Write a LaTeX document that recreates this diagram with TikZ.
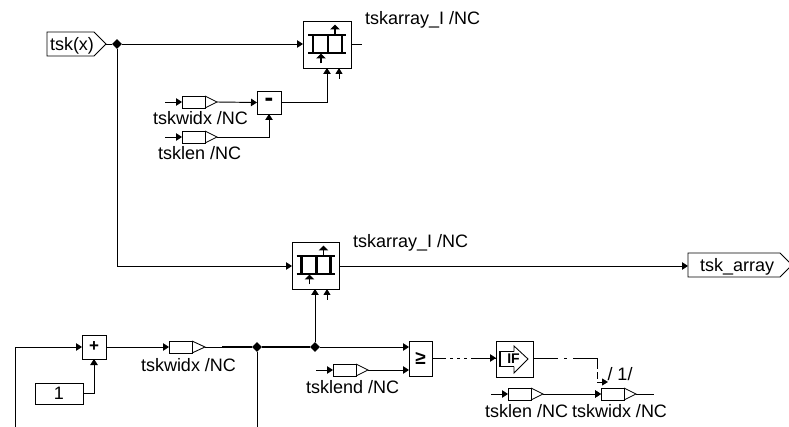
\documentclass[tikz,border=0pt]{standalone}
\usepackage{fontspec}
\setmainfont{Liberation Sans}
\usetikzlibrary{arrows.meta,calc,shapes.geometric}
\newcommand{\lblfont}{\fontsize{18}{20}\selectfont}
\tikzset{
  wire/.style={line width=0.95pt},
  arr/.style={wire,-{Triangle[length=6pt,width=7.5pt]}},
  smallarr/.style={wire,-{Triangle[length=6pt,width=7pt]}},
  thickwire/.style={line width=1.9pt},
  blockbox/.style={draw,line width=0.95pt,rectangle,inner sep=0pt,outer sep=0pt},
  tagbox/.style={draw,line width=0.85pt,rectangle,inner sep=0pt,outer sep=0pt,minimum width=23pt,minimum height=12pt},
  lbl/.style={inner sep=0pt,outer sep=0pt,anchor=base west,font=\lblfont},
  junction/.style={fill=black,draw=none,shape=diamond,minimum size=10pt,inner sep=0pt},
  iconbar/.style={line width=2.1pt},
  iconarr/.style={line width=1.9pt,-{Triangle[length=5pt,width=9.5pt]}}
}
% input tag: #1 name, #2 left x, #3 centre y
\newcommand{\inputtag}[3]{%
  \node[tagbox,anchor=west] (#1) at (#2,#3) {};
  \coordinate (#1-tip) at ($(#1.east)+(12pt,0)$);
  \coordinate (#1-stub) at ($(#1.west)+(-17pt,0)$);
  \draw[line width=0.85pt] (#1.north east) -- (#1-tip) -- (#1.south east);
  \draw[arr] (#1-stub) -- (#1.west);
}
% array block icon: #1 block name
\newcommand{\arrayicon}[1]{%
  \begin{scope}[shift={(#1.center)}]
    \draw[iconbar] (-19,-9.5) -- (19,-9.5);
    \draw[iconbar] (-19,8.5) -- (19,8.5);
    \draw[iconbar] (-14,-9.5) -- (-14,8.5);
    \draw[iconbar] (1,-9.5) -- (1,8.5);
    \draw[iconbar] (15,-9.5) -- (15,8.5);
    \draw[iconarr] (8,-9.5) -- (8,-20);
    \draw[iconarr] (-6,19) -- (-6,9);
  \end{scope}
}
\begin{document}
\begin{tikzpicture}[x=1pt,y=-1pt]
\useasboundingbox (0,0) rectangle (789,427);
\clip (0,0) rectangle (789,427);

% --- top input
\node[lbl] (tskx) at (50,50.5) {tsk(x)};
\coordinate (tskx-tip) at (106,44);
\draw[line width=0.95pt] (47,32) -- (94,32) -- (tskx-tip) -- (94,56) -- (47,56) -- cycle;
\node[junction] (j1) at (117,44) {};

% --- top array block
\node[blockbox,minimum width=48pt,minimum height=47pt] (arr1) at (327,44.5) {};
\arrayicon{arr1}
\coordinate (arr1-out) at (362,44);
\coordinate (arr1-p1) at (327,68);
\coordinate (arr1-p2) at (339,68);
\coordinate (arr1-s2) at (339,79);
\draw[wire] (tskx-tip) -- (j1);
\draw[arr] (j1) -- (303,44);
\draw[wire] (351,44) -- (arr1-out);
\draw[smallarr] (arr1-s2) -- (arr1-p2);
\node[lbl] (lbl1) at (365,25) {tskarray\_I /NC};

% --- minus block
\node[blockbox,minimum width=24pt,minimum height=23pt] (minus) at (269,102.5) {\fontsize{26}{26}\selectfont\bfseries -};
\inputtag{tw1}{182}{102}
\inputtag{tl1}{182}{137}
\draw[arr] (tw1-tip) -- (minus.west);
\draw[arr] (tl1-tip) -| (minus.south);
\draw[arr] (minus.east) -| (arr1-p1);
\node[lbl] (lbl2) at (153,125) {tskwidx /NC};
\node[lbl] (lbl3) at (158,160) {tsklen /NC};

% --- second array block
\node[blockbox,minimum width=47pt,minimum height=47pt] (arr2) at (315.5,265.5) {};
\arrayicon{arr2}
\coordinate (arr2-p2) at (327,289);
\coordinate (arr2-s2) at (327,300);
\coordinate (turn1) at (117,266);
\draw[wire] (j1) -- (turn1);
\draw[arr] (turn1) -- (292,266);
\draw[smallarr] (arr2-s2) -- (arr2-p2);
\node[lbl] (lbl4) at (353,248) {tskarray\_I /NC};

% --- output tag
\coordinate (outtip) at (792,265);
\draw[line width=0.95pt] (688,253) -- (780,253) -- (outtip) -- (780,277) -- (688,277) -- cycle;
\node[lbl] (tskarr) at (700,271.5) {tsk\_array};
\coordinate (tskarr-in) at (688,266);
\draw[arr] (339,266) -- (tskarr-in);

% --- plus block, constant
\node[blockbox,minimum width=24pt,minimum height=24pt] (plus) at (94,347) {\fontsize{17}{17}\selectfont\bfseries +};
\node[blockbox,minimum width=48pt,minimum height=21pt,font=\lblfont] (const) at (59,393.5) {1};
\coordinate (fbk) at (15,427);
\coordinate (fbk-top) at (15,347);
\draw[arr] (fbk) -- (fbk-top) -- (plus.west);
\draw[arr] (const.east) -| (plus.south);
\node[tagbox,anchor=west] (tw2) at (169,347) {};
\coordinate (tw2-tip) at (205,347);
\draw[line width=0.85pt] (tw2.north east) -- (tw2-tip) -- (tw2.south east);
\draw[arr] (plus.east) -- (tw2.west);
\node[lbl] (lbl5) at (141,371) {tskwidx /NC};

% --- bus and junctions
\node[junction] (j2) at (257,347) {};
\node[junction] (j3) at (315,347) {};
\coordinate (thickstart) at (222,347);
\draw[wire] (tw2-tip) -- (thickstart);
\draw[thickwire] (thickstart) -- (j2) -- (j3);
\coordinate (j2-down) at (257,427);
\draw[wire] (j2) -- (j2-down);
\coordinate (arr2-p1) at (315,289);
\draw[arr] (j3) -- (arr2-p1);

% --- comparison block
\node[blockbox,minimum width=23pt,minimum height=35pt] (cmp) at (420.5,358.5) {\fontsize{19}{19}\selectfont\bfseries ≥};
\inputtag{tle}{333}{370}
\draw[arr] (j3) -- (409,347);
\draw[arr] (tle-tip) -- (409,370);
\node[lbl] (lbl6) at (306,393) {tsklend /NC};

% --- IF block
\node[blockbox,minimum width=37pt,minimum height=36pt] (ifb) at (514.5,359) {};
\draw[line width=1.2pt] (514,351.5) -- (500,351.5) -- (500,366.5) -- (514,366.5);
\draw[line width=0.85pt] (514,351.5) -- (514,346) -- (528,359) -- (514,373) -- (514,366.5);
\node[inner sep=0pt,font=\fontsize{14}{14}\selectfont\bfseries] (iftext) at (513.5,359) {IF};
\draw[wire,dash pattern=on 14pt off 4pt on 3pt off 4pt on 3pt off 4pt on 3pt off 4pt on 30pt] (cmp.east |- 0,358) -- (496,358);
\draw[arr] (490,358) -- (496,358);

% --- dash-dot output
\coordinate (dd) at (597,358);
\coordinate (ddb) at (597,382);
\coordinate (ddtip) at (608,382);
\draw[wire,dash pattern=on 25pt off 6pt on 3pt off 6pt on 24pt] (533,358) -- (dd);
\draw[wire,dash pattern=on 11pt off 3pt on 7pt off 3pt] (dd) -- (ddb);
\draw[smallarr] (ddb) -- (ddtip);
\node[lbl] (lbl7) at (607.5,380) {/ 1/};

% --- bottom tags
\inputtag{tl2}{508}{394}
\inputtag{tw3}{601}{394}
\draw[arr] (tl2-tip) -- (tw3.west);
\coordinate (tw3-end) at (654,394);
\draw[wire] (tw3-tip) -- (tw3-end);
\node[lbl] (lbl8) at (485,417) {tsklen /NC};
\node[lbl] (lbl9) at (572,417) {tskwidx /NC};
\end{tikzpicture}
\end{document}
